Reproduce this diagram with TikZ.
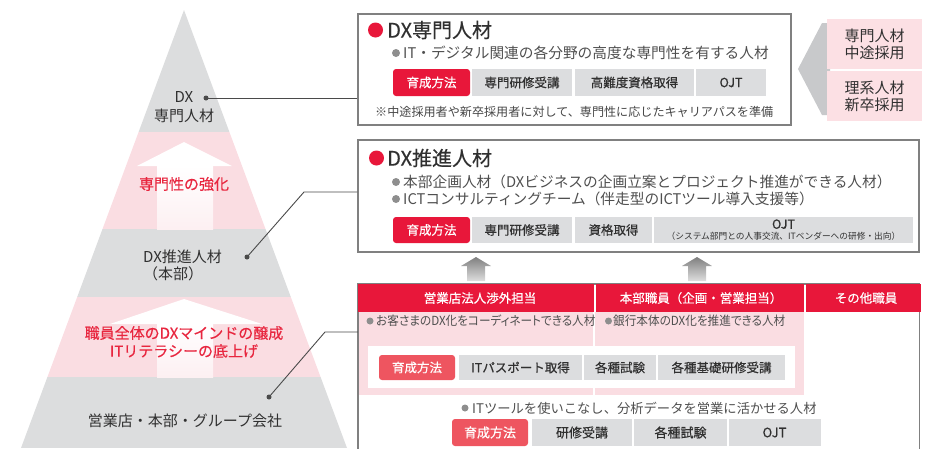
\documentclass[tikz,border=0pt]{standalone}
\usepackage{fontspec}
\setmainfont{Noto Sans CJK JP}
\newfontfamily\jpmed[FakeBold=0.4]{Noto Sans CJK JP}
\newfontfamily\jpp[RawFeature=+palt,FakeStretch=0.93]{Noto Sans CJK JP}
\definecolor{redc}{HTML}{E8173A}
\definecolor{pinkc}{HTML}{FADDE2}
\definecolor{pyrgray}{HTML}{DCDDDE}
\definecolor{taggray}{HTML}{DCDDDF}
\definecolor{lred}{HTML}{EE5560}
\definecolor{txtc}{HTML}{303030}
\definecolor{bordc}{HTML}{808080}
\definecolor{bulc}{HTML}{8E8E8E}
\definecolor{redtxt}{HTML}{E8263F}
\definecolor{chev}{HTML}{C8C9CB}
\definecolor{rpink}{HTML}{FCE0E4}
\definecolor{connc}{HTML}{4A4A4A}
\begin{document}
\begin{tikzpicture}[x=1pt,y=-1pt,
  ptxt/.style={inner sep=0, text=txtc, font=\fontsize{15}{19}\selectfont},
  rtxt/.style={inner sep=0, text=redtxt, font=\jpmed\fontsize{15}{18}\selectfont},
  dotn/.style={circle, fill=connc, inner sep=0, minimum size=5pt},
  conn/.style={draw=connc, line width=0.9pt},
  framebox/.style={draw=bordc, line width=1.2pt, inner sep=0},
  ttl/.style={inner sep=0, anchor=west, text=txtc, font=\jpmed\fontsize{20}{22}\selectfont},
  body/.style={inner sep=0, anchor=west, text=txtc!85!white, font=\fontsize{14.7}{17}\selectfont},
  note/.style={inner sep=0, anchor=west, text=txtc!90!white, font=\fontsize{12.1}{14}\selectfont},
  tg/.style={fill=taggray, text=txtc, inner sep=0, font=\jpmed\fontsize{12.5}{12}\selectfont},
  tr/.style={tg, fill=redc, text=white, rounded corners=3pt},
  tl/.style={tg, fill=lred, text=white, rounded corners=3pt},
  hdr/.style={fill=redc, text=white, inner sep=0, minimum height=28pt, font=\jpmed\fontsize{12.5}{14}\selectfont},
  ptext/.style={inner sep=0, anchor=west, text=txtc!85!white, font=\jpp\fontsize{12.5}{14}\selectfont},
  rbox/.style={fill=rpink, text=txtc, inner sep=0, minimum width=95pt, align=center, font=\fontsize{15}{17}\selectfont}
]
\useasboundingbox (0,0) rectangle (928,448);

% ---------- pyramid ----------
\begin{scope}
\clip (184,10) -- (347,448) -- (21,448) -- cycle;
\fill[pyrgray] (0,0) rectangle (400,132);
\fill[pinkc] (0,132) rectangle (400,229);
\fill[pyrgray] (0,229) rectangle (400,297);
\fill[pinkc] (0,297) rectangle (400,377);
\fill[pyrgray] (0,377) rectangle (400,448);
% white arrows
\fill[white] (184,142) -- (232,166) -- (137,166) -- cycle;
\shade[top color=white, bottom color=pinkc!45!white] (157,165.5) rectangle (213,229);
\fill[white] (184,299) -- (262,324) -- (110,324) -- cycle;
\shade[top color=white, bottom color=pinkc!45!white] (157,323.5) rectangle (213,377);
\end{scope}

\node[ptxt, align=center] (lab1) at (184,107.5) {DX\\専門人材};
\node[rtxt] (lab1b) at (184,184) {専門性の強化};
\node[ptxt, align=left, anchor=west, font=\fontsize{15}{17}\selectfont] (lab2) at (143,265.5) {DX推進人材\\（本部）};
\node[rtxt, align=center] (lab2b) at (184,342) {職員全体のDXマインドの醸成\\ITリテラシーの底上げ};
\node[ptxt] (lab3) at (185,421) {営業店・本部・グループ会社};

% ---------- box 1 : DX専門人材 ----------
\node[framebox, minimum width=433pt, minimum height=111pt] (box1) at (574.5,69.5) {};
\fill[redc] (375.5,30) circle (7.5);
\node[ttl] (t1) at (387,30) {DX専門人材};
\fill[bulc] (396,53) circle (4);
\node[body] (b1) at (403,53) {IT・デジタル関連の各分野の高度な専門性を有する人材};
\node[tr, minimum width=77pt, minimum height=27pt] (g11) at (431.5,82.5) {育成方法};
\node[tg, minimum width=100pt, minimum height=27pt] (g12) at (522,82.5) {専門研修受講};
\node[tg, minimum width=119pt, minimum height=27pt] (g13) at (634.5,82.5) {高難度資格取得};
\node[tg, minimum width=70pt, minimum height=27pt] (g14) at (731,82.5) {OJT};
\node[note] (n1) at (375,112) {※中途採用者や新卒採用者に対して、専門性に応じたキャリアパスを準備};

% ---------- right side ----------
\fill[chev] (798,69) -- (822,23) -- (830,23) -- (830,115) -- (822,115) -- cycle;
\node[rbox, minimum height=50pt] (r1) at (874.5,44) {専門人材\\中途採用};
\node[rbox, minimum height=50pt] (r2) at (874.5,96) {理系人材\\新卒採用};

% ---------- box 2 : DX推進人材 ----------
\node[framebox, minimum width=561pt, minimum height=112pt] (box2) at (638.5,196) {};
\fill[redc] (376.5,158) circle (7.5);
\node[ttl] (t2) at (387,158) {DX推進人材};
\fill[bulc] (396,182) circle (4);
\node[body] (b21) at (403,182) {本部企画人材（DXビジネスの企画立案とプロジェクト推進ができる人材）};
\fill[bulc] (396,199) circle (4);
\node[body] (b22) at (403,199) {ICTコンサルティングチーム（伴走型のICTツール導入支援等）};
\node[tr, minimum width=77pt, minimum height=26pt] (g21) at (431.5,230) {育成方法};
\node[tg, minimum width=100pt, minimum height=26pt] (g22) at (522,230) {専門研修受講};
\node[tg, minimum width=77pt, minimum height=26pt] (g23) at (613.5,230) {資格取得};
\node[tg, minimum width=259pt, minimum height=26pt, align=center] (g24) at (783.5,230) {OJT\\[-1pt]{\rmfamily\fontsize{8.7}{10}\selectfont （システム部門との人事交流、ITベンダーへの研修・出向）}};

% ---------- gray arrows ----------
\shade[top color=black!50, bottom color=black!13] (476,257) -- (491,266) -- (485,266) -- (485,281) -- (467,281) -- (467,266) -- (461,266) -- cycle;
\shade[top color=black!50, bottom color=black!13] (697,257) -- (712,266) -- (706,266) -- (706,281) -- (688,281) -- (688,266) -- (682,266) -- cycle;

% ---------- bottom section ----------
\draw[draw=bordc, line width=1.2pt] (358,449) -- (358,284) -- (919.5,284) -- (919.5,449);
\node[hdr, minimum width=236pt] (h1) at (476,298) {};
\node[hdr, minimum width=208pt] (h2) at (700,298) {};
\node[hdr, minimum width=115pt] (h3) at (863.5,298) {};
\node[inner sep=0, text=white, font=\jpmed\fontsize{12.5}{14}\selectfont] (h1t) at (480,298) {営業店法人渉外担当};
\node[inner sep=0, text=white, font=\jpmed\fontsize{12.5}{14}\selectfont] (h2t) at (701,298) {本部職員（企画・営業担当）};
\node[inner sep=0, text=white, font=\jpmed\fontsize{12.5}{14}\selectfont] (h3t) at (866,298) {その他職員};
\fill[pinkc] (358.6,312) rectangle (593,395);
\fill[pinkc] (595,312) rectangle (804,395);
\fill[bulc] (370,321) circle (3.5);
\node[ptext] (p1) at (376,321) {お客さまのDX化をコーディネートできる人材};
\fill[bulc] (608.5,321) circle (3.5);
\node[ptext] (p2) at (613,321) {銀行本体のDX化を推進できる人材};
\fill[white] (368,346) rectangle (795,388);
\node[tl, minimum width=76pt, minimum height=25pt] (g31) at (417,367.5) {育成方法};
\node[tg, minimum width=123pt, minimum height=25pt] (g32) at (520.5,367.5) {ITパスポート取得};
\node[tg, minimum width=72pt, minimum height=25pt] (g33) at (620,367.5) {各種試験};
\node[tg, minimum width=127pt, minimum height=25pt] (g34) at (721.5,367.5) {各種基礎研修受講};
\fill[bulc] (465,408) circle (3.5);
\node[inner sep=0, anchor=west, text=txtc!85!white, font=\fontsize{13.3}{15}\selectfont] (p3) at (472,408) {ITツールを使いこなし、分析データを営業に活かせる人材};
\node[tl, minimum width=76pt, minimum height=27pt, font=\jpmed\fontsize{13}{13}\selectfont] (g41) at (490,432.5) {育成方法};
\node[tg, minimum width=100pt, minimum height=27pt, font=\jpmed\fontsize{13}{13}\selectfont] (g42) at (582,432.5) {研修受講};
\node[tg, minimum width=93pt, minimum height=27pt, font=\jpmed\fontsize{13}{13}\selectfont] (g43) at (680.5,432.5) {各種試験};
\node[tg, minimum width=92pt, minimum height=27pt, font=\jpmed\fontsize{13}{13}\selectfont] (g44) at (774.5,432.5) {OJT};

% ---------- connectors ----------
\node[dotn] (d1) at (206,98) {};
\node[dotn] (d2) at (247,257) {};
\node[dotn] (d3) at (269,397) {};
\coordinate (k2) at (304,192);
\coordinate (k3) at (325,332);
\draw[conn] (d1.center) -- (d1.center -| box1.west);
\draw[conn] (d2.center) -- (k2) -- (k2 -| box2.west);
\draw[conn] (d3.center) -- (k3) -- (k3 -| h1.west);
\end{tikzpicture}
\end{document}
